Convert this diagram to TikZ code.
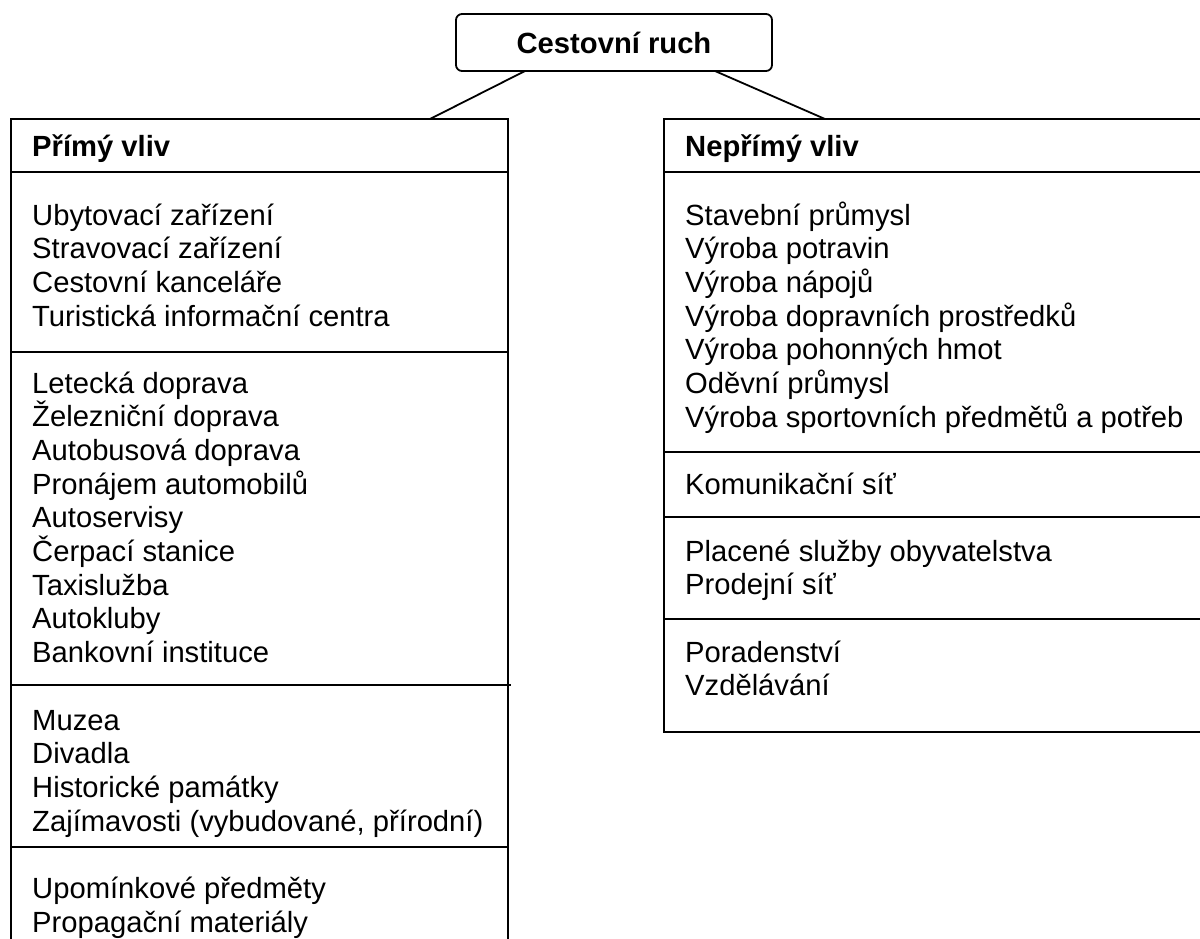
\documentclass[tikz,border=0pt]{standalone}
\usepackage{fontspec}
\setmainfont{Liberation Sans}
\usetikzlibrary{calc}
\tikzset{
  every picture/.style={x=1pt,y=-1pt},
  ln/.style={line width=1.8pt,black},
  panel/.style={draw,ln,rectangle,anchor=north west,outer sep=0pt,inner sep=0pt},
  topbox/.style={draw,ln,rectangle,rounded corners=6pt,outer sep=0pt,inner sep=0pt,
     minimum width=316pt,minimum height=57pt,font=\fontsize{29.2}{33.7}\selectfont\bfseries},
  item/.style={anchor=base west,inner sep=0pt,font=\fontsize{29.2}{33.7}\selectfont},
  head/.style={item,font=\fontsize{29.2}{33.7}\selectfont\bfseries},
}
\begin{document}
\begin{tikzpicture}
\useasboundingbox (0,0) rectangle (1200,938);
\clip (0,0) rectangle (1200,938);
% top box
\node[topbox] (top) at (614,42.5) {Cestovní ruch};
% panels
\node[panel,minimum width=497pt,minimum height=860pt] (left) at (11,119) {};
\node[panel,minimum width=620pt,minimum height=613pt] (right) at (664,119) {};
% connectors
\coordinate (ta) at (525,71);
\coordinate (tb) at (715,71);
\coordinate (la) at (430,119);
\coordinate (ra) at (825,119);
\draw[ln] (ta) -- (la);
\draw[ln] (tb) -- (ra);
% dividers left
\draw[ln] (left.west |- 0,172) -- (left.east |- 0,172);
\draw[ln] (left.west |- 0,352) -- (left.east |- 0,352);
\draw[ln] (left.west |- 0,685) -- (511,685);
\draw[ln] (left.west |- 0,847) -- (left.east |- 0,847);
% dividers right
\draw[ln] (right.west |- 0,172) -- (1200,172);
\draw[ln] (right.west |- 0,452) -- (1200,452);
\draw[ln] (right.west |- 0,517) -- (1200,517);
\draw[ln] (right.west |- 0,619) -- (1200,619);
% left texts
\node[head] (lh) at (32,156) {Přímý vliv};
\foreach \t [count=\i] in {Ubytovací zařízení,Stravovací zařízení,Cestovní kanceláře,Turistická informační centra}
  \node[item] (la\i) at (32,{225+(\i-1)*33.7}) {\t};
\foreach \t [count=\i] in {Letecká doprava,Železniční doprava,Autobusová doprava,Pronájem automobilů,Autoservisy,Čerpací stanice,Taxislužba,Autokluby,Bankovní instituce}
  \node[item] (lb\i) at (32,{393+(\i-1)*33.7}) {\t};
\foreach \t [count=\i] in {Muzea,Divadla,Historické památky,{Zajímavosti (vybudované, přírodní)}}
  \node[item] (lc\i) at (32,{730+(\i-1)*33.7}) {\t};
\foreach \t [count=\i] in {Upomínkové předměty,Propagační materiály}
  \node[item] (ld\i) at (32,{898.5+(\i-1)*33.7}) {\t};
% right texts
\node[head] (rh) at (685,156) {Nepřímý vliv};
\foreach \t [count=\i] in {Stavební průmysl,Výroba potravin,Výroba nápojů,Výroba dopravních prostředků,Výroba pohonných hmot,Oděvní průmysl,Výroba sportovních předmětů a potřeb}
  \node[item] (ra\i) at (685,{225+(\i-1)*33.7}) {\t};
\node[item] (rb1) at (685,494.5) {Komunikační síť};
\foreach \t [count=\i] in {Placené služby obyvatelstva,Prodejní síť}
  \node[item] (rc\i) at (685,{561+(\i-1)*33.7}) {\t};
\foreach \t [count=\i] in {Poradenství,Vzdělávání}
  \node[item] (rd\i) at (685,{662+(\i-1)*33.7}) {\t};
\end{tikzpicture}
\end{document}
